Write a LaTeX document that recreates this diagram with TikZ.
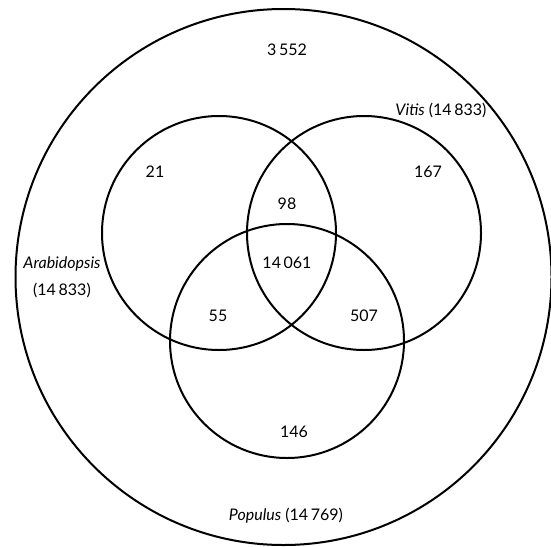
\documentclass[tikz,border=0pt]{standalone}
\usepackage{fontspec}
\setmainfont{Lato}
\usepackage{tikz}
\usetikzlibrary{positioning}

\begin{document}
\begin{tikzpicture}[
  x=1pt,y=-1pt,
  font=\fontsize{16}{27}\selectfont,
  setc/.style={draw=black,circle,line width=2pt,inner sep=0pt,minimum size=234pt},
  allc/.style={draw=black,circle,line width=2pt,inner sep=0pt,minimum size=536pt},
  cnt/.style={inner sep=1pt,align=center}
]
\useasboundingbox (0,0) rectangle (551,546);

% outer set and the three species
\node[allc] (pop) at (283.5,277) {};
\node[setc] (ara) at (219,233) {};
\node[setc] (vit) at (364,233) {};
\node[setc] (pol) at (287,341) {};

% labels
\node[cnt] (lout) at (287,50) {3\,552};
\node[cnt] (lvit) at (441,110) {\textit{Vitis} (14\,833)};
\node[cnt] (lara) at (62,277) {\textit{Arabidopsis}\\(14\,833)};
\node[cnt] (lpop) at (286,516) {\textit{Populus} (14\,769)};

% counts
\node[cnt] (na) at (155,172) {21};
\node[cnt] (nv) at (428,172) {167};
\node[cnt] (nav) at (287,204) {98};
\node[cnt] (nall) at (287,263) {14\,061};
\node[cnt] (nap) at (218,316) {55};
\node[cnt] (nvp) at (364,316) {507};
\node[cnt] (np) at (294,432) {146};
\end{tikzpicture}
\end{document}
